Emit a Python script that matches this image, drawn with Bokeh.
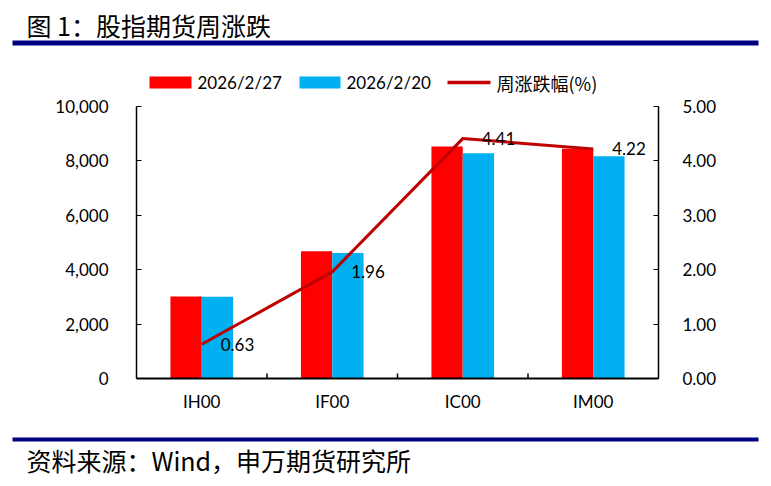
from bokeh.plotting import figure
from bokeh.models import (FactorRange, Range1d, LinearAxis, NumeralTickFormatter,
                          ColumnDataSource, LabelSet)
from bokeh.layouts import column
from bokeh.core.properties import value
from bokeh.transform import dodge
from bokeh.embed import file_html
from bokeh.resources import INLINE
import math

categories = ["IH00", "IF00", "IC00", "IM00"]
close_0227 = [3015, 4680, 8530, 8445]
close_0220 = [3010, 4610, 8285, 8175]
pct_change = [0.63, 1.96, 4.41, 4.22]
series_names = ["2026/2/27", "2026/2/20", "周涨跌幅(%)"]
title_text = "图 1：股指期货周涨跌"
source_text = "资料来源：Wind，申万期货研究所"

RED = "#FF0000"
BLUE = "#00B0F0"
DARK = "#C00000"
NAVY = "#000080"
LAT = "Lato"
CJK = "Noto Sans CJK SC"
W = 766
HD = 96


def blank(h):
    f = figure(width=W, height=h, x_range=Range1d(0, W), y_range=Range1d(h, 0),
               output_backend="svg", toolbar_location=None, min_border=0,
               x_axis_location=None, y_axis_location=None, frame_align=False)
    f.outline_line_color = None
    f.grid.grid_line_color = None
    return f


# ---------- header: title, rule, legend ----------
hd = blank(HD)
hd.text(x=[26], y=[24], text=[title_text], text_font=value(CJK), text_font_size="25px",
        text_baseline="middle", text_color="black")
hd.quad(left=[12], right=[758], top=[40], bottom=[45], fill_color=NAVY, line_color=None)
# legend
hd.quad(left=[149], right=[191], top=[76], bottom=[88], fill_color=RED, line_color=None)
hd.text(x=[197], y=[82], text=[series_names[0]], text_font=value(LAT), text_font_size="17px",
        text_baseline="middle", text_color="black")
hd.quad(left=[299], right=[340], top=[76], bottom=[88], fill_color=BLUE, line_color=None)
hd.text(x=[346], y=[82], text=[series_names[1]], text_font=value(LAT), text_font_size="17px",
        text_baseline="middle", text_color="black")
hd.segment(x0=[447], x1=[490], y0=[82], y1=[82], line_color=DARK, line_width=3.5)
hd.text(x=[496], y=[82], text=[series_names[2]], text_font=value(CJK), text_font_size="18px",
        text_baseline="middle", text_color="black")

# ---------- main chart ----------
src = ColumnDataSource(dict(cat=categories, a=close_0227, b=close_0220, pct=pct_change,
                            lbl=["%.2f" % v for v in pct_change]))

p = figure(x_range=FactorRange(*categories, range_padding=0), y_range=Range1d(0, 10000),
           width=W, height=428 - HD, output_backend="svg", toolbar_location=None, frame_align=False,
           min_border_left=136, min_border_right=W - 658, min_border_top=106 - HD,
           min_border_bottom=50)
p.extra_y_ranges = {"pct": Range1d(0, 5)}
p.outline_line_color = None
p.grid.grid_line_color = None

p.vbar(x=dodge("cat", -0.12, range=p.x_range), top="a", width=0.24, source=src,
       fill_color=RED, line_color=None)
p.vbar(x=dodge("cat", 0.12, range=p.x_range), top="b", width=0.24, source=src,
       fill_color=BLUE, line_color=None)
p.line(x="cat", y="pct", source=src, y_range_name="pct", line_color=DARK, line_width=3)

# category boundary ticks (pointing inward)
p.ray(x=[1, 2, 3], y=[0, 0, 0], length=5, length_units="screen", angle=math.pi / 2,
      line_color="black", line_width=1.5)

p.add_layout(LabelSet(x="cat", y="pct", text="lbl", source=src, y_range_name="pct",
                      x_offset=19, text_baseline="middle", text_font=value(LAT),
                      text_font_size="17px", text_color="black"))

xa = p.xaxis[0]
xa.axis_line_color = "black"
xa.axis_line_width = 2
xa.major_tick_line_color = None
xa.major_tick_in = 0
xa.major_tick_out = 0
xa.major_label_standoff = 12
xa.major_label_text_font = LAT
xa.major_label_text_font_size = "17px"
xa.major_label_text_color = "black"

ya = p.yaxis[0]
ya.formatter = NumeralTickFormatter(format="0,0")
ya.ticker.desired_num_ticks = 6
ya.axis_line_color = "black"
ya.axis_line_width = 1.5
ya.major_tick_in = 5
ya.major_tick_out = 0
ya.minor_tick_line_color = None
ya.major_label_standoff = 24
ya.major_label_text_font = LAT
ya.major_label_text_font_size = "17px"
ya.major_label_text_color = "black"

ra = LinearAxis(y_range_name="pct", formatter=NumeralTickFormatter(format="0.00"))
ra.ticker.desired_num_ticks = 6
ra.axis_line_color = "black"
ra.axis_line_width = 1.5
ra.major_tick_in = 5
ra.major_tick_out = 0
ra.minor_tick_line_color = None
ra.major_label_standoff = 20
ra.major_label_text_font = LAT
ra.major_label_text_font_size = "17px"
ra.major_label_text_color = "black"
p.add_layout(ra, "right")

# ---------- footer ----------
ft = blank(56)
ft.quad(left=[12], right=[758], top=[9], bottom=[13], fill_color=NAVY, line_color=None)
ft.text(x=[26], y=[31], text=[source_text], text_font=value(CJK), text_font_size="25px",
        text_baseline="middle", text_color="black")

layout = column(hd, p, ft, spacing=0)
open("out.html", "w").write(file_html(layout, INLINE))
